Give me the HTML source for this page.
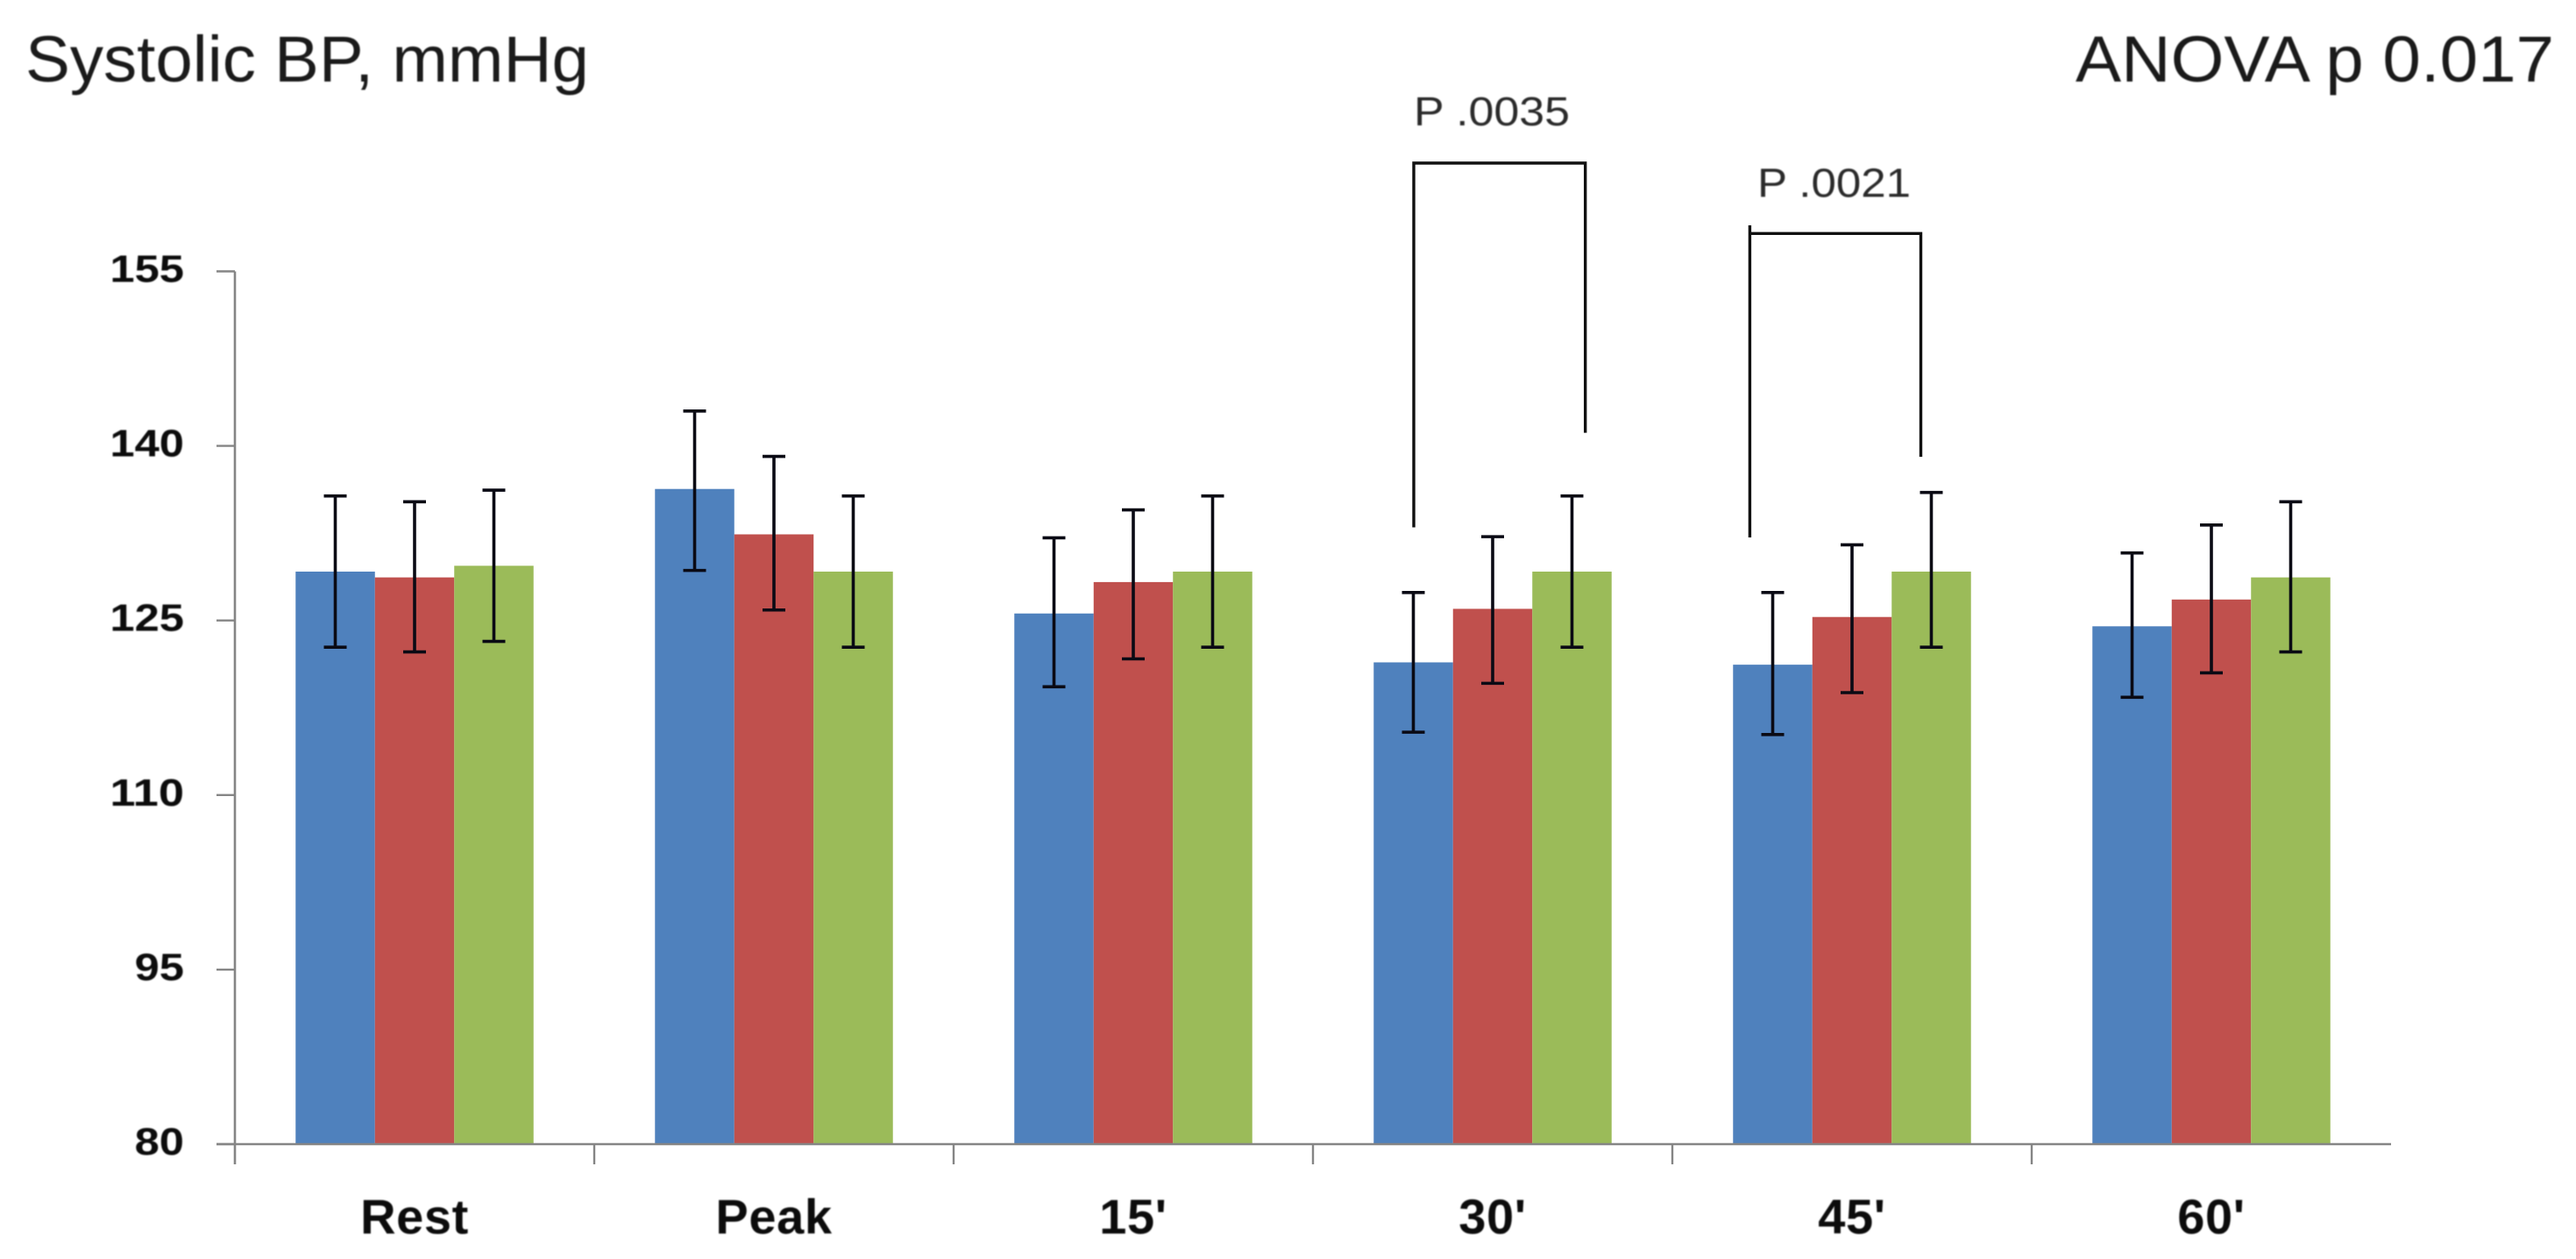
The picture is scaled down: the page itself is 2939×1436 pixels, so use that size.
<!DOCTYPE html>
<html lang="en">
<head>
<meta charset="utf-8">
<title>Systolic BP chart</title>
<style>
  html, body { margin: 0; padding: 0; background: #fff; }
  body { width: 2939px; height: 1436px; overflow: hidden; }
  svg { display: block; font-family: "Liberation Sans", sans-serif; }
  .soft { filter: blur(0.9px); }
</style>
</head>
<body>
<svg id="chart" xmlns="http://www.w3.org/2000/svg" width="2939" height="1436" viewBox="0 0 2939 1436">
  <rect x="0" y="0" width="2939" height="1436" fill="#fff"/>
  <text class="soft" x="29" y="93" font-size="74" fill="#1a1a1a" textLength="643" lengthAdjust="spacingAndGlyphs">Systolic BP, mmHg</text>
  <text class="soft" x="2368" y="93" font-size="74" fill="#1a1a1a" textLength="546" lengthAdjust="spacingAndGlyphs">ANOVA p 0.017</text>

  <g id="plot"></g>

  <g fill="none" stroke="#111" stroke-width="3.4">
    <path d="M1613 601.5V186H1808.7V493.6"/>
  </g>
  <text class="soft" x="1613" y="143" font-size="46" fill="#2a2a2a" textLength="178" lengthAdjust="spacingAndGlyphs">P .0035</text>
  <g fill="none" stroke="#111" stroke-width="3.4">
    <path d="M1996.4 613V257M1996.4 266.3H2191.5V521"/>
  </g>
  <text class="soft" x="2005" y="224.5" font-size="46" fill="#2a2a2a" textLength="175" lengthAdjust="spacingAndGlyphs">P .0021</text>
</svg>
<script>
// Chart data
const categories = ["Rest", "Peak", "15'", "30'", "45'", "60'"];
const yTickLabels = [80, 95, 110, 125, 140, 155];
const seriesColors = ["#4f81bd", "#c0504d", "#9bbb59"];

const blueValues  = [129.2, 136.3, 125.6, 121.4, 121.2, 124.5];
const redValues   = [128.7, 132.4, 128.3, 126.0, 125.3, 126.8];
const greenValues = [129.7, 129.2, 129.2, 129.2, 129.2, 128.7];

const blueErrorHigh  = [135.7, 143.0, 132.1, 127.4, 127.4, 130.8];
const blueErrorLow   = [122.7, 129.3, 119.3, 115.4, 115.2, 118.4];
const redErrorHigh   = [135.2, 139.1, 134.5, 132.2, 131.5, 133.2];
const redErrorLow    = [122.3, 125.9, 121.7, 119.6, 118.8, 120.5];
const greenErrorHigh = [136.2, 135.7, 135.7, 135.7, 136.0, 135.2];
const greenErrorLow  = [123.2, 122.7, 122.7, 122.7, 122.7, 122.3];

const allValues = [blueValues, redValues, greenValues];
const allErrorHigh = [blueErrorHigh, redErrorHigh, greenErrorHigh];
const allErrorLow = [blueErrorLow, redErrorLow, greenErrorLow];
const seriesKeys = ["blue", "red", "green"];

// Axis functions
const plotLeft = 268, plotRight = 2728, plotBottom = 1305, plotTop = 309.5;
const yMin = 80, yMax = 155;
const bandWidth = (plotRight - plotLeft) / categories.length;
const barWidth = bandWidth * 0.2207;
function yScale(v) {
  return plotBottom - (v - yMin) / (yMax - yMin) * (plotBottom - plotTop);
}
function bandCenter(i) {
  return plotLeft + bandWidth * (i + 0.5);
}
function barLeft(i, s) {
  return bandCenter(i) + (s - 1.5) * barWidth;
}

const NS = "http://www.w3.org/2000/svg";
const plot = document.getElementById("plot");
function make(tag, attrs, parent) {
  const el = document.createElementNS(NS, tag);
  for (const k in attrs) el.setAttribute(k, attrs[k]);
  parent.appendChild(el);
  return el;
}

// Bars
seriesKeys.forEach(function (key, s) {
  allValues[s].forEach(function (v, i) {
    const top = yScale(v);
    const bar = make("rect", { x: barLeft(i, s), y: top, width: barWidth, height: plotBottom - top, fill: seriesColors[s] }, plot);
    
    
  });
});

// Axes
const yAxis = make("line", { x1: plotLeft, x2: plotLeft, y1: plotTop, y2: 1328, stroke: "#858585", "stroke-width": 2.6 }, plot);


const xAxis = make("line", { x1: 247, x2: plotRight, y1: plotBottom, y2: plotBottom, stroke: "#858585", "stroke-width": 2.6 }, plot);



yTickLabels.forEach(function (t) {
  const y = yScale(t);
  const tick = make("line", { x1: 247, x2: plotLeft, y1: y, y2: y, stroke: "#858585", "stroke-width": 2.4 }, plot);
  
  
  const s = String(t);
  const label = make("text", { x: 210, y: y + 12, "text-anchor": "end", "font-size": 44, "font-weight": 700, fill: "#0c0c0c", textLength: s.length * 28.2, lengthAdjust: "spacingAndGlyphs", class: "soft" }, plot);
  label.textContent = s;
  
  
});

categories.forEach(function (c, i) {
  const x = plotLeft + bandWidth * (i + 1);
  if (i < categories.length - 1) {
    const tick = make("line", { x1: x, x2: x, y1: plotBottom, y2: 1328, stroke: "#858585", "stroke-width": 2.4 }, plot);
    
    
  }
  const label = make("text", { x: bandCenter(i), y: 1407, "text-anchor": "middle", "font-size": 56, "font-weight": 700, fill: "#0c0c0c", "letter-spacing": 0.6, class: "soft" }, plot);
  label.textContent = c;
  
  
});

// Error bars
seriesKeys.forEach(function (key, s) {
  allValues[s].forEach(function (v, i) {
    const cx = barLeft(i, s) + barWidth / 2;
    const hi = yScale(allErrorHigh[s][i]);
    const lo = yScale(allErrorLow[s][i]);
    const err = make("path", { d: "M" + (cx - 13) + " " + hi + "H" + (cx + 13) + "M" + cx + " " + hi + "V" + lo + "M" + (cx - 13) + " " + lo + "H" + (cx + 13), fill: "none", stroke: "#0a0a14", "stroke-width": 3.6 }, plot);
    
    
  });
});
</script>
</body>
</html>
